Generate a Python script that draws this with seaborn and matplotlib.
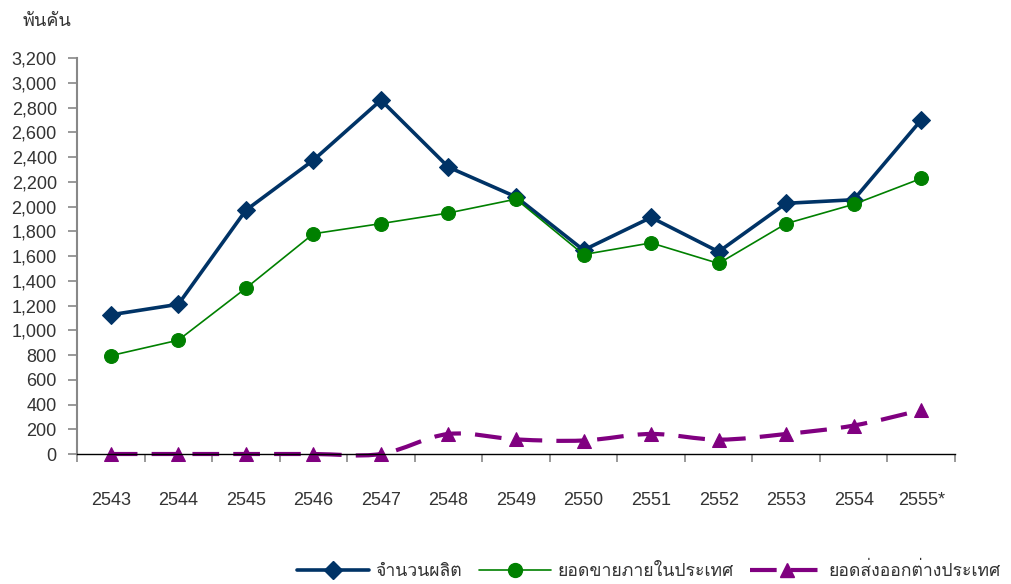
import numpy as np
import pandas as pd
import matplotlib
matplotlib.use("Agg")
import matplotlib.pyplot as plt
import seaborn as sns
from matplotlib import font_manager
from matplotlib.path import Path
from matplotlib.patches import PathPatch
from matplotlib.lines import Line2D

# ==========================================================
# DATA (thousand vehicles)
# ==========================================================

years = ["2543", "2544", "2545", "2546", "2547", "2548", "2549",
         "2550", "2551", "2552", "2553", "2554", "2555*"]
production = [1125, 1210, 1970, 2375, 2860, 2318, 2078, 1648, 1912, 1635, 2026, 2055, 2700]
domestic = [795, 920, 1340, 1780, 1862, 1948, 2060, 1612, 1706, 1540, 1862, 2018, 2227]
export = [0, 0, 0, 0, 0, 162, 118, 109, 162, 116, 162, 230, 355]

series_names = ["จำนวนผลิต", "ยอดขายภายในประเทศ", "ยอดส่งออกต่างประเทศ"]
unit_label = "พันคัน"

# ==========================================================
# FONTS - find something that can draw Thai
# ==========================================================

thai_font = None
try:
    from fontTools.ttLib import TTFont
    for f in font_manager.fontManager.ttflist:
        try:
            tt = TTFont(f.fname, fontNumber=0, lazy=True)
            cmap = tt.getBestCmap()
            if cmap and 0x0E08 in cmap:
                thai_font = f.name
                break
        except Exception:
            pass
except Exception:
    pass

sns.set_style("white")
families = ["Liberation Sans"]
if thai_font:
    families.append(thai_font)
families.append("DejaVu Sans")
plt.rcParams["font.family"] = families

TEXT = "#333333"
BLUE = "#003366"
GREEN = "#008000"
PURPLE = "#800080"

# ==========================================================
# FIGURE
# ==========================================================

fig = plt.figure(figsize=(10.12, 5.84), dpi=100)
ax = fig.add_axes([0.0761, 0.2226, 0.8676, 0.678])

df = pd.DataFrame({"year": years, "production": production,
                   "domestic": domestic, "export": export})

sns.lineplot(data=df, x="year", y="production", ax=ax, color=BLUE,
             linewidth=2.6, marker="D", markersize=9, markeredgecolor=BLUE)
sns.lineplot(data=df, x="year", y="domestic", ax=ax, color=GREEN,
             linewidth=1.2, marker="o", markersize=10, markeredgecolor=GREEN)
sns.lineplot(data=df, x="year", y="export", ax=ax, color=PURPLE,
             linestyle="none", marker="^", markersize=10, markeredgecolor=PURPLE)

# smoothed dashed export curve (cardinal bezier through the points)
xs = np.arange(len(export), dtype=float)
ys = np.array(export, dtype=float)
verts = [(xs[0], ys[0])]
codes = [Path.MOVETO]
n = len(xs)
for i in range(n - 1):
    p0 = (xs[max(i - 1, 0)], ys[max(i - 1, 0)])
    p1 = (xs[i], ys[i])
    p2 = (xs[i + 1], ys[i + 1])
    p3 = (xs[min(i + 2, n - 1)], ys[min(i + 2, n - 1)])
    c1 = (p1[0] + (p2[0] - p0[0]) / 6, p1[1] + (p2[1] - p0[1]) / 6)
    c2 = (p2[0] - (p3[0] - p1[0]) / 6, p2[1] - (p3[1] - p1[1]) / 6)
    verts += [c1, c2, p2]
    codes += [Path.CURVE4, Path.CURVE4, Path.CURVE4]
curve = PathPatch(Path(verts, codes), facecolor="none", edgecolor=PURPLE,
                  linewidth=3.0, linestyle=(0, (6.4, 3.4)), clip_on=False, zorder=1.5)
ax.add_patch(curve)

for line in ax.lines:
    line.set_clip_on(False)

# ==========================================================
# AXES STYLE
# ==========================================================

ax.set_xlim(-0.5, len(years) - 0.5)
ax.set_ylim(0, 3200)
ax.set_yticks(np.arange(0, 3201, 200))
ax.set_yticklabels([f"{v:,}" for v in range(0, 3201, 200)])
ax.set_xticks(np.arange(len(years)))
ax.set_xticklabels(years)
ax.set_xticks(np.arange(-0.5, len(years), 1.0), minor=True)

ax.tick_params(axis="y", which="major", length=6.5, width=1.2, color="#888888",
               labelsize=13, labelcolor=TEXT, pad=8, left=True)
ax.tick_params(axis="x", which="major", length=0, labelsize=13,
               labelcolor=TEXT, pad=27, bottom=True)
ax.tick_params(axis="x", which="minor", length=6, width=1.2, color="#888888",
               bottom=True)

for side in ["top", "right"]:
    ax.spines[side].set_visible(False)
ax.spines["left"].set_color("#888888")
ax.spines["left"].set_linewidth(1.5)
ax.spines["bottom"].set_color("black")
ax.spines["bottom"].set_linewidth(1.0)

ax.set_xlabel("")
ax.set_ylabel("")
ax.grid(False)

fig.text(23 / 1012, 1 - 22 / 584, unit_label, fontsize=13, color=TEXT,
         ha="left", va="center")

# ==========================================================
# LEGEND
# ==========================================================

handles = [
    Line2D([], [], color=BLUE, linewidth=2.6, marker="D", markersize=9),
    Line2D([], [], color=GREEN, linewidth=1.2, marker="o", markersize=10),
    Line2D([], [], color=PURPLE, linewidth=3.0, linestyle=(0, (6.4, 3.4)),
           marker="^", markersize=10),
]
fig.legend(handles, series_names, loc="center left",
           bbox_to_anchor=(297 / 1012, 1 - 571 / 584), ncol=3, frameon=False,
           fontsize=12.7, handlelength=4.1, handletextpad=0.35,
           columnspacing=0.95, borderpad=0, borderaxespad=0, labelcolor=TEXT)

fig.savefig("out.png", dpi=100)
